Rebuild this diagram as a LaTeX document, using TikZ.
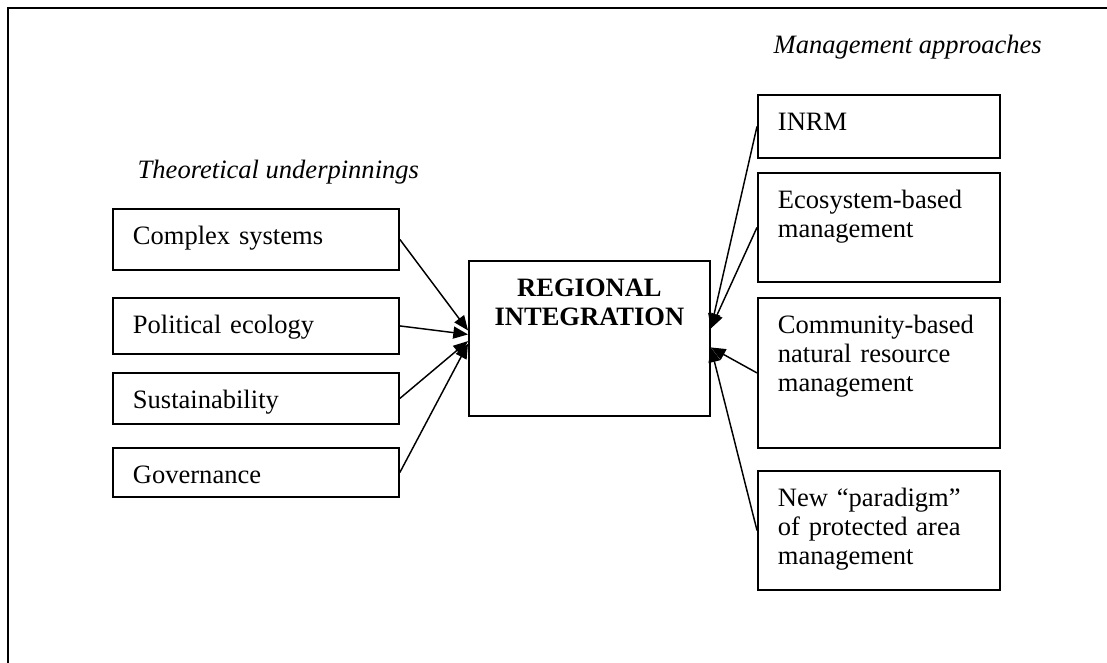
\documentclass[tikz,border=0pt]{standalone}
\usepackage{fontspec}
\setmainfont{Liberation Serif}
\usetikzlibrary{arrows.meta}

\newcommand{\figfont}{\fontsize{19.9}{21.75}\selectfont}

\tikzset{
  panel/.style={draw, line width=1.4pt, anchor=north west, inner xsep=15pt, inner ysep=0pt,
    text height=27pt, text depth=#1, align=left},
  leftbox/.style={panel=#1, text width=184.5pt},
  rightbox/.style={panel=#1, text width=151.5pt},
  feed/.style={line width=1.1pt, -{Triangle[length=11pt,width=9pt]}}
}

\begin{document}
\begin{tikzpicture}[x=0.75pt, y=-0.75pt, font=\figfont]
    \useasboundingbox (0,0) rectangle (1107,663);
    \draw[line width=2pt] (1107,8) -- (8,8) -- (8,663); % frame

    % theory side
    \node[anchor=base west, font=\figfont\itshape] (theory) at (133,179) {Theoretical underpinnings};
    \node[leftbox=18.75pt] (cs) at (112,208) {Complex systems};
    \node[leftbox=15pt] (pe) at (112,297) {Political ecology};
    \node[leftbox=11.25pt] (su) at (112,372) {Sustainability};
    \node[leftbox=9.75pt] (go) at (112,447) {Governance};

    % centre
    \node[panel=89.25pt, text width=150.75pt, align=center, font=\figfont\bfseries] (ri) at (468,260) {REGIONAL\\INTEGRATION};

    % management side
    \node[anchor=base west, font=\figfont\itshape] (mgmt) at (769,54) {Management approaches};
    \node[rightbox=20.25pt] (inrm) at (757,94) {INRM};
    \node[rightbox=54.75pt] (eco) at (757,172) {Ecosystem-based\\management};
    \node[rightbox=85.5pt] (cb) at (757,297) {Community-based\\natural resource\\management};
    \node[rightbox=62.25pt] (np) at (757,470) {New ``paradigm''\\of protected area\\management};

    \draw[feed] (cs.east) -- ([yshift=6pt]ri.west);
    \draw[feed] (pe.east) -- ([yshift=3pt]ri.west);
    \draw[feed] (su.east) -- ([yshift=-2pt]ri.west);
    \draw[feed] (go.east) -- ([yshift=-4pt]ri.west);
    \draw[feed] (inrm.west) -- ([yshift=7.5pt]ri.east);
    \draw[feed] (eco.west) -- ([yshift=7.5pt]ri.east);
    \draw[feed] (cb.west) -- ([yshift=-6.75pt]ri.east);
    \draw[feed] (np.west) -- ([yshift=-6.75pt]ri.east);
\end{tikzpicture}
\end{document}
